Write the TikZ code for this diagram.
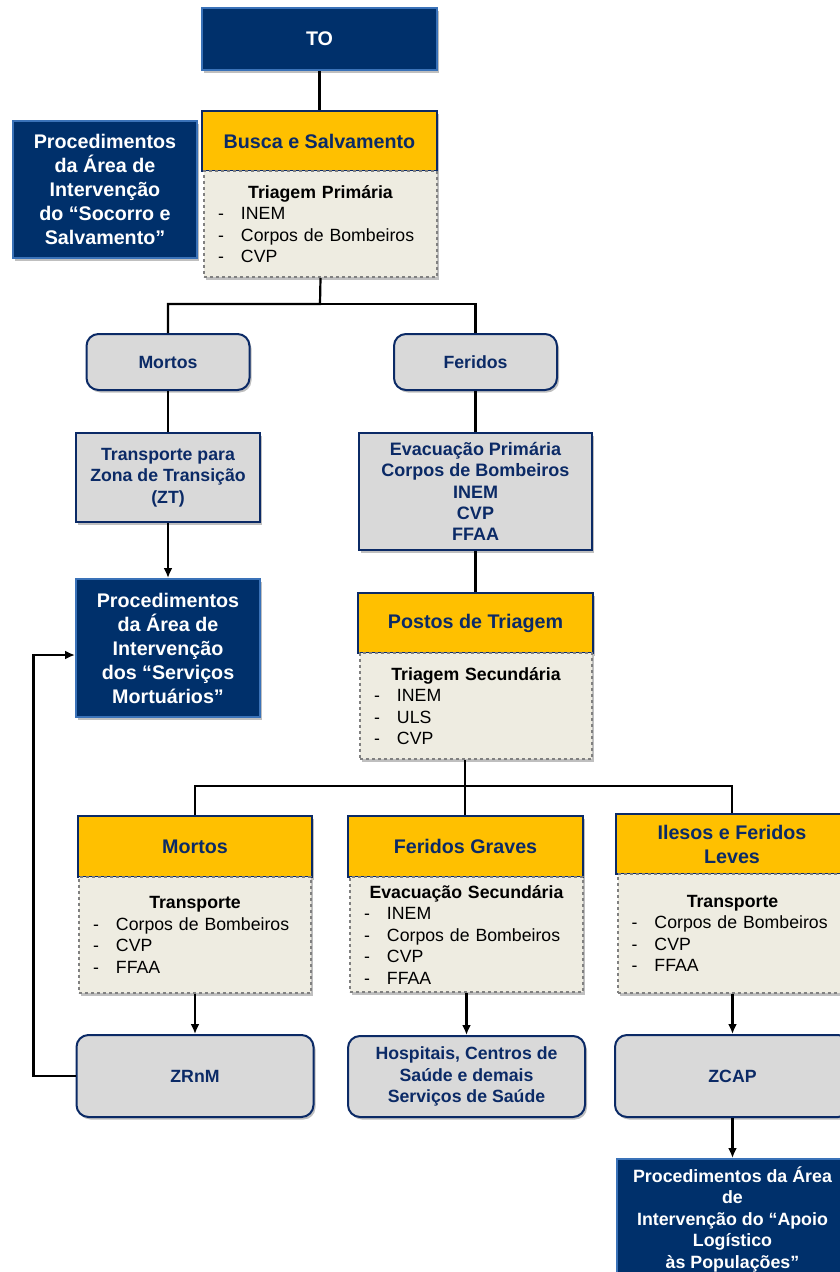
\documentclass[tikz,border=0pt]{standalone}
\usepackage{fontspec}
\setmainfont{Liberation Sans}
\usetikzlibrary{arrows.meta,shadows}
\definecolor{navy}{HTML}{00306B}
\definecolor{navyline}{HTML}{3A72B8}
\definecolor{navytext}{HTML}{0B2A66}
\definecolor{amarelo}{HTML}{FFC000}
\definecolor{cinza}{HTML}{D9D9D9}
\definecolor{bege}{HTML}{EEECE1}
\definecolor{tracejado}{HTML}{808080}
\newcommand{\titulo}[1]{\makebox[\hsize][c]{\bfseries #1}}
\newcommand{\linha}[1]{\makebox[23pt][l]{-}#1}
\begin{document}
\begin{tikzpicture}[x = 1pt, y = -1pt, >={Latex[length=10pt,width=9pt]},
	sombra/.style = {drop shadow={shadow xshift=2pt, shadow yshift=-2.5pt, opacity=0.25, fill=black}},
	navybox/.style = {sombra, draw=navyline, line width=2pt, fill=navy, text=white, align=center, inner sep=0pt, font=\bfseries\fontsize{19.7}{24}\selectfont},
	amarelobox/.style = {sombra, draw=navytext, line width=2pt, fill=amarelo, text=navytext, align=center, inner sep=0pt, font=\bfseries\fontsize{19.7}{24}\selectfont},
	cinzabox/.style = {sombra, draw=navytext, line width=2pt, fill=cinza, text=navytext, align=center, inner sep=0pt, font=\bfseries\fontsize{17.7}{21.5}\selectfont},
	redondo/.style = {cinzabox, rounded corners=12pt},
	listabox/.style = {sombra, draw=tracejado, dashed, line width=2pt, fill=bege, text=black, align=left, inner xsep=14pt, inner ysep=0pt, font=\fontsize{17.7}{21.5}\selectfont},
	liga/.style = {line width=2.2pt}]
	\useasboundingbox (0,0) rectangle (839,1272);
	% topo
	\node[navybox, minimum width=235pt, minimum height=62pt] (to) at (319.5,39) {TO};
	\node[amarelobox, minimum width=235pt, minimum height=60pt] (busca) at (319.5,141) {Busca e Salvamento};
	\node[listabox, text width=205pt, minimum height=106pt] (triagemP) at (320.5,224) {\titulo{Triagem Primária}\\ \linha{INEM}\\ \linha{Corpos de Bombeiros}\\ \linha{CVP}};
	\node[navybox, minimum width=184pt, minimum height=137pt] (procSocorro) at (105,189.5) {Procedimentos\\ da Área de\\ Intervenção\\ do “Socorro e\\ Salvamento”};
	% mortos / feridos
	\node[redondo, minimum width=163pt, minimum height=56pt] (mortosA) at (168,362) {Mortos};
	\node[redondo, minimum width=163pt, minimum height=56pt] (feridosA) at (475.5,362) {Feridos};
	\node[cinzabox, minimum width=184pt, minimum height=89pt] (transpZT) at (168,477.5) {Transporte para\\ Zona de Transição\\ (ZT)};
	\node[navybox, minimum width=184pt, minimum height=138pt] (procMort) at (168,648) {Procedimentos\\ da Área de\\ Intervenção\\ dos “Serviços\\ Mortuários”};
	\node[cinzabox, minimum width=233pt, minimum height=117pt, font=\bfseries\fontsize{18}{21.4}\selectfont] (evacP) at (475.5,491.5) {Evacuação Primária\\ Corpos de Bombeiros\\ INEM\\ CVP\\ FFAA};
	\node[amarelobox, minimum width=235pt, minimum height=60pt] (postos) at (475.5,623) {Postos de Triagem};
	\node[listabox, text width=204pt, minimum height=106pt] (triagemS) at (476,706) {\titulo{Triagem Secundária}\\ \linha{INEM}\\ \linha{ULS}\\ \linha{CVP}};
	% triagem secundaria
	\node[amarelobox, minimum width=234pt, minimum height=61pt] (mortosB) at (195,846.5) {Mortos};
	\node[listabox, text width=204pt, minimum height=116pt] (transpB) at (195,935) {\titulo{Transporte}\\ \linha{Corpos de Bombeiros}\\ \linha{CVP}\\ \linha{FFAA}};
	\node[redondo, minimum width=237pt, minimum height=82pt] (zrnm) at (195,1076) {ZRnM};
	\node[amarelobox, minimum width=235pt, minimum height=61pt] (graves) at (465.5,846.5) {Feridos Graves};
	\node[listabox, text width=205pt, minimum height=115pt] (evacS) at (466.5,934.5) {\titulo{Evacuação Secundária}\\ \linha{INEM}\\ \linha{Corpos de Bombeiros}\\ \linha{CVP}\\ \linha{FFAA}};
	\node[redondo, minimum width=237pt, minimum height=81pt] (hosp) at (466.5,1076.5) {Hospitais, Centros de\\ Saúde e demais\\ Serviços de Saúde};
	\node[amarelobox, minimum width=232pt, minimum height=60pt] (ilesos) at (732,844) {Ilesos e Feridos\\ Leves};
	\node[listabox, text width=202pt, minimum height=119pt] (transpC) at (732.5,933.5) {\titulo{Transporte}\\ \linha{Corpos de Bombeiros}\\ \linha{CVP}\\ \linha{FFAA}};
	\node[redondo, minimum width=235pt, minimum height=82pt] (zcap) at (732.5,1076) {ZCAP};
	\node[navybox, minimum width=231pt, minimum height=120pt, font=\bfseries\fontsize{17.8}{21.5}\selectfont] (procApoio) at (732.5,1219) {Procedimentos da Área\\ de\\ Intervenção do “Apoio\\ Logístico\\ às Populações”};
	% ligacoes
	\coordinate (split1) at (320,304);
	\coordinate (split2) at (465,786);
	\draw[liga] (to) -- (busca);
	\draw[liga] (triagemP.south) -- (split1) -| (mortosA.north);
	\draw[liga] (split1) -| (feridosA.north);
	\draw[liga] (mortosA) -- (transpZT);
	\draw[liga, ->] (transpZT) -- (procMort);
	\draw[liga] (feridosA) -- (evacP);
	\draw[liga] (evacP) -- (postos);
	\draw[liga] (triagemS.south -| split2) -- (graves.north -| split2);
	\draw[liga] (split2) -| (mortosB.north);
	\draw[liga] (split2) -| (ilesos.north);
	\draw[liga, ->] (transpB) -- (zrnm);
	\draw[liga, ->] (evacS) -- (hosp);
	\draw[liga, ->] (transpC) -- (zcap);
	\draw[liga, ->] (zcap) -- (procApoio);
	\draw[liga, ->] (zrnm.west) -- ++(-42,0) |- ([yshift=-7pt]procMort.west);
\end{tikzpicture}
\end{document}
